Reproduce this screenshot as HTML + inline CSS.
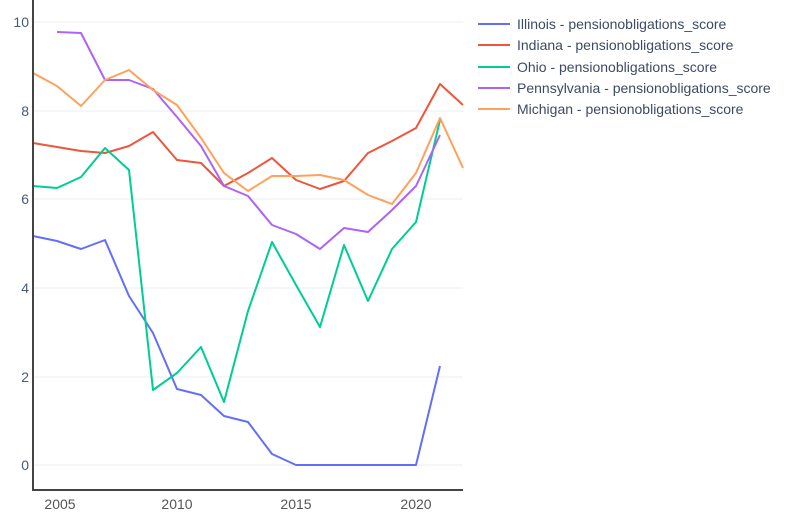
<!DOCTYPE html>
<html><head><meta charset="utf-8"><style>body{margin:0;background:#fff}svg{display:block}</style></head><body>
<svg width="800" height="516" xmlns="http://www.w3.org/2000/svg" font-family="Liberation Sans, sans-serif">
<g stroke="#ebedf0" stroke-width="1">
<line x1="33" x2="463" y1="22" y2="22"/><line x1="33" x2="463" y1="111" y2="111"/><line x1="33" x2="463" y1="199" y2="199"/><line x1="33" x2="463" y1="288" y2="288"/><line x1="33" x2="463" y1="377" y2="377"/><line x1="33" x2="463" y1="465" y2="465"/>
</g>
<g fill="#4a5a78" font-size="14" text-anchor="end">
<text x="29" y="27">10</text><text x="29" y="116">8</text><text x="29" y="204">6</text><text x="29" y="293">4</text><text x="29" y="382">2</text><text x="29" y="470">0</text>
</g>
<g fill="#555" font-size="14" text-anchor="middle">
<text x="60" y="509">2005</text><text x="177" y="509">2010</text><text x="296" y="509">2015</text><text x="416" y="509">2020</text>
</g>
<g fill="none" stroke-width="2" stroke-linejoin="round">
<polyline stroke="#636efa" points="33,236 57,241 81,249 105,240 129,296 153,333 177,389 201,395 224,416 248,422 272,454 296,465 320,465 344,465 368,465 392,465 416,465 440,366"/>
<polyline stroke="#ef553b" points="33,143 57,147 81,151 105,153 129,146 153,132 177,160 201,163 224,186 248,173 272,158 296,180 320,189 344,181 368,153 392,141 416,128 440,84 463,105"/>
<polyline stroke="#00cc96" points="33,186 57,188 81,177 105,148 129,170 153,390 177,373 201,347 224,402 248,311 272,242 296,285 320,327 344,245 368,301 392,249 416,222 440,120"/>
<polyline stroke="#ab63fa" points="57,32 81,33 105,80 129,80 153,89 177,117 201,146 224,186 248,196 272,225 296,234 320,249 344,228 368,232 392,210 416,186 440,135"/>
<polyline stroke="#ffa15a" points="33,73 57,86 81,106 105,80 129,70 153,90 177,105 201,138 224,173 248,191 272,176 296,176 320,175 344,180 368,195 392,204 416,173 440,118 463,168"/>
</g>
<g stroke="#444" stroke-width="2" fill="none"><polyline points="33,0 33,490 463,490"/></g>
<g stroke-width="2">
<line x1="478" x2="510" y1="24" y2="24" stroke="#636efa"/>
<line x1="478" x2="510" y1="45" y2="45" stroke="#ef553b"/>
<line x1="478" x2="510" y1="67" y2="67" stroke="#00cc96"/>
<line x1="478" x2="510" y1="88" y2="88" stroke="#ab63fa"/>
<line x1="478" x2="510" y1="109" y2="109" stroke="#ffa15a"/>
</g>
<g fill="#3e4a63" font-size="14">
<text x="517" y="29">Illinois - pensionobligations_score</text>
<text x="517" y="50">Indiana - pensionobligations_score</text>
<text x="517" y="72">Ohio - pensionobligations_score</text>
<text x="517" y="93">Pennsylvania - pensionobligations_score</text>
<text x="517" y="114">Michigan - pensionobligations_score</text>
</g>
</svg>
</body></html>
